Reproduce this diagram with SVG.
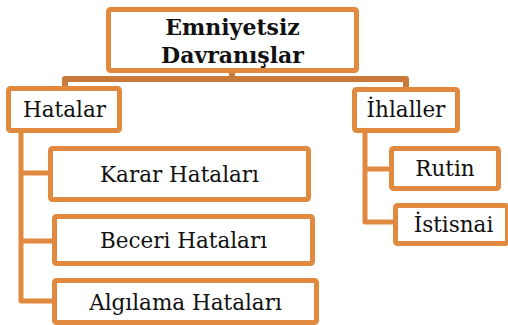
<svg xmlns="http://www.w3.org/2000/svg" width="508" height="325" viewBox="0 0 508 325">
  <style>
    .box { fill: #ffffff; stroke: #E0893F; stroke-width: 5; }
    .link { fill: none; stroke: #E0893F; stroke-width: 5; stroke-linejoin: round; }
    .link-top { fill: none; stroke: #C97A3A; stroke-width: 6; stroke-linejoin: round; }
    text { font-family: "DejaVu Serif", "Liberation Serif", serif; font-size: 21.5px; fill: #111111; text-anchor: middle; }
    .title { font-weight: bold; font-size: 22px; }
  </style>

  <!-- connectors -->
  <g id="connectors">
    <path class="link-top" d="M65 88 V79 H406 V89 M232 72 V79"/>
    <path class="link" d="M21 131 V301 H54 M21 173 H50 M21 241 H54"/>
    <path class="link" d="M365 131 V222 H395 M365 169 H391"/>
  </g>

  <!-- root -->
  <g id="emniyetsiz-davranislar">
    <rect class="box" x="108.5" y="9.5" width="248" height="61" rx="2"/>
    <text class="title" x="232.5" y="35">Emniyetsiz</text>
    <text class="title" x="232.5" y="63">Davranışlar</text>
  </g>

  <g id="hatalar">
    <rect class="box" x="8.5" y="88.5" width="111" height="42" rx="2"/>
    <text x="64.5" y="117">Hatalar</text>
  </g>

  <g id="ihlaller">
    <rect class="box" x="354.5" y="89.5" width="103" height="41" rx="2"/>
    <text x="406" y="117">İhlaller</text>
  </g>

  <g id="karar-hatalari">
    <rect class="box" x="50.5" y="148.5" width="258" height="51" rx="2"/>
    <text x="179.5" y="182">Karar Hataları</text>
  </g>

  <g id="beceri-hatalari">
    <rect class="box" x="54.5" y="216.5" width="258" height="47" rx="2"/>
    <text x="183.5" y="248">Beceri Hataları</text>
  </g>

  <g id="algilama-hatalari">
    <rect class="box" x="54.5" y="280.5" width="262" height="42" rx="2"/>
    <text x="185.5" y="310">Algılama Hataları</text>
  </g>

  <g id="rutin">
    <rect class="box" x="391.5" y="148.5" width="107" height="40" rx="2"/>
    <text x="445" y="176">Rutin</text>
  </g>

  <g id="istisnai">
    <rect class="box" x="395.5" y="205.5" width="112" height="38" rx="2"/>
    <text x="453.5" y="232">İstisnai</text>
  </g>
</svg>
